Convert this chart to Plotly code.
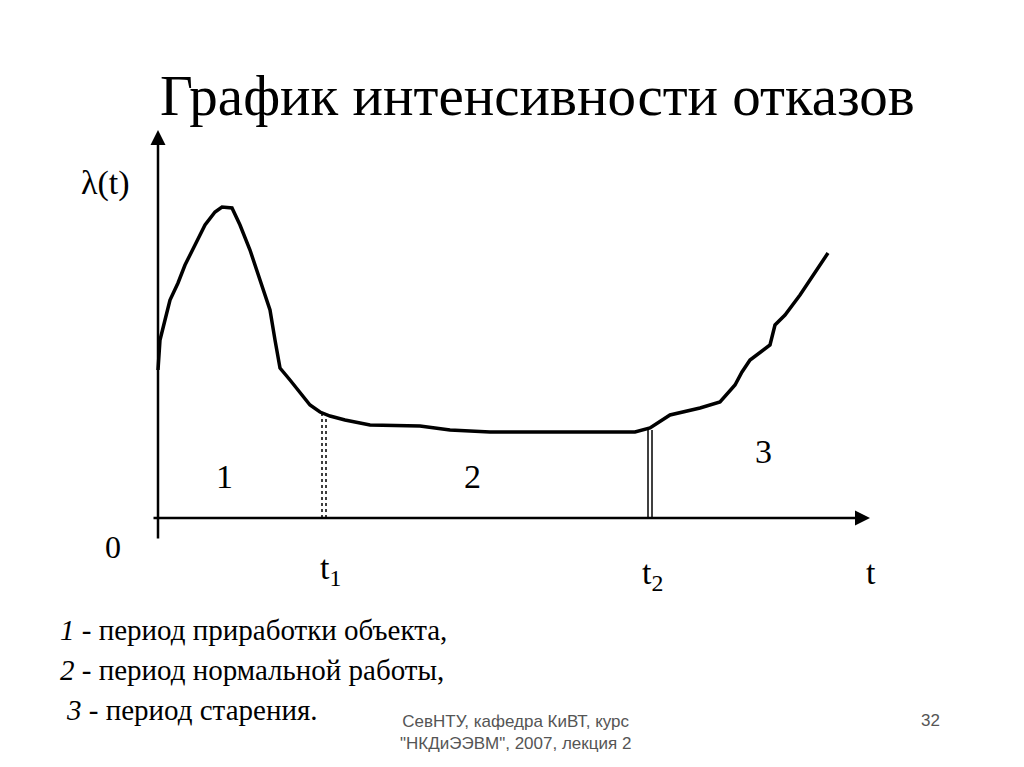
import plotly.graph_objects as go

# curve (pixel-like units: x right, y down)
curve_x = [158, 160, 165, 170, 178, 185, 195, 205, 215, 222, 232, 240, 250, 262, 270, 275, 280,
           290, 300, 310, 320, 330, 345, 370, 420, 450, 490, 560, 635, 650, 670, 700, 720, 735,
           742, 750, 770, 775, 785, 800, 815, 828]
curve_y = [370, 340, 320, 300, 283, 265, 245, 225, 212, 207, 208, 225, 250, 285, 310, 340, 368,
           380, 393, 405, 412, 416, 420, 425, 426, 430, 432, 432, 432, 428, 415, 408, 402, 385,
           372, 360, 345, 325, 315, 295, 272, 253]

t1_x = 324
t2_x = 650
axis_y = 518
axis_x = 158

serif = "Liberation Serif"

fig = go.Figure()
fig.add_trace(go.Scatter(x=curve_x, y=curve_y, mode="lines",
                         line=dict(color="black", width=3.5), hoverinfo="skip"))

# t1 dashed double line
for dx in (-2, 2):
    fig.add_trace(go.Scatter(x=[t1_x + dx, t1_x + dx], y=[413, axis_y], mode="lines",
                             line=dict(color="black", width=1.5, dash="dot"), hoverinfo="skip"))
# t2 double line
for dx in (-2, 2):
    fig.add_trace(go.Scatter(x=[t2_x + dx, t2_x + dx], y=[430, axis_y], mode="lines",
                             line=dict(color="black", width=1.5), hoverinfo="skip"))

# axes as arrows
fig.add_annotation(x=axis_x, y=130, ax=axis_x, ay=540, xref="x", yref="y", axref="x", ayref="y",
                   text="", showarrow=True, arrowhead=2, arrowsize=1.2, arrowwidth=2.5, arrowcolor="black")
fig.add_annotation(x=870, y=axis_y, ax=152, ay=axis_y, xref="x", yref="y", axref="x", ayref="y",
                   text="", showarrow=True, arrowhead=2, arrowsize=1.2, arrowwidth=2.5, arrowcolor="black")

labels = [
    (537, 95, "График интенсивности отказов", 57),
    (105, 183, "λ(t)", 34),
    (113, 547, "0", 32),
    (224, 476, "1", 34),
    (472, 476, "2", 34),
    (763, 451, "3", 34),
    (330, 570, "t<sub>1</sub>", 34),
    (652, 575, "t<sub>2</sub>", 34),
    (871, 572, "t", 34),
]
for x, y, t, s in labels:
    fig.add_annotation(x=x, y=y, xref="x", yref="y", text=t, showarrow=False,
                       font=dict(family=serif, size=s, color="black"))

notes = [
    (58, 630, "<i>1</i> - период приработки объекта,"),
    (58, 670, "<i>2</i> - период нормальной работы,"),
    (64, 710, "<i>3</i> - период старения."),
]
for x, y, t in notes:
    fig.add_annotation(x=x, y=y, xref="x", yref="y", text=t, showarrow=False, xanchor="left",
                       font=dict(family=serif, size=29, color="black"))

fig.add_annotation(x=515, y=732, xref="x", yref="y", showarrow=False,
                   text="СевНТУ, кафедра КиВТ, курс<br>\"НКДиЭЭВМ\", 2007, лекция 2",
                   font=dict(family="Liberation Sans", size=17, color="#555555"))
fig.add_annotation(x=930, y=720, xref="x", yref="y", text="32", showarrow=False,
                   font=dict(family="Liberation Sans", size=17, color="#555555"))

# the page puts the figure 8px in from the corner, so shift the ranges to compensate
fig.update_xaxes(range=[8, 1032], visible=False)
fig.update_yaxes(range=[775, 8], visible=False)
fig.update_layout(width=1024, height=767, margin=dict(l=0, r=0, t=0, b=0),
                  plot_bgcolor="white", paper_bgcolor="white", showlegend=False)

fig.write_html("out.html")
